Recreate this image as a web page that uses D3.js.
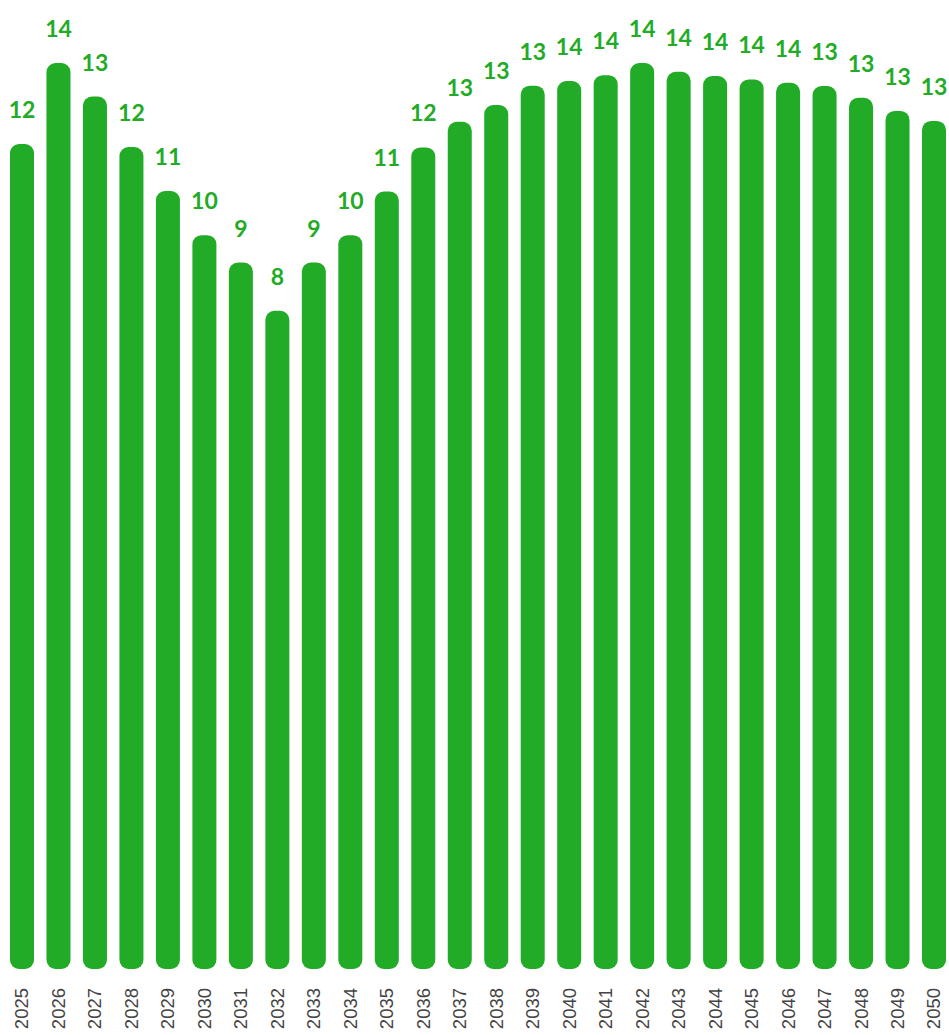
<!DOCTYPE html>
<html>
<head>
<meta charset="utf-8">
<script src="https://cdn.jsdelivr.net/npm/d3@7"></script>
<style>
  html, body { margin: 0; padding: 0; background: #ffffff; }
  svg { display: block; }
</style>
</head>
<body>
<svg id="chart" width="949" height="1035"></svg>
<script>
const years = ["2025","2026","2027","2028","2029","2030","2031","2032","2033","2034","2035","2036","2037",
               "2038","2039","2040","2041","2042","2043","2044","2045","2046","2047","2048","2049","2050"];
const values = [12.07, 14.0, 13.2, 12.0, 10.95, 9.9, 9.25, 8.1, 9.25, 9.9, 10.94, 11.99, 12.6,
                13.0, 13.46, 13.57, 13.71, 14.0, 13.79, 13.69, 13.61, 13.53, 13.45, 13.17, 12.86, 12.62];
const yDomain = [-7.57, 14.5];

const svg = d3.select("#chart");
const green = "#22ab26";

const x = d3.scaleBand().domain(years).range([10, 946]).paddingInner(0.342).paddingOuter(0);
const y = d3.scaleLinear().domain(yDomain).range([969, 42]);

const data = years.map((yr, i) => ({ year: yr, value: values[i] }));

svg.append("g").selectAll("rect").data(data).join("rect")
  .attr("x", d => x(d.year))
  .attr("width", x.bandwidth())
  .attr("y", d => y(d.value))
  .attr("height", d => y(yDomain[0]) - y(d.value))
  .attr("rx", 9).attr("ry", 9)
  .attr("fill", green);

svg.append("g").selectAll("text").data(data).join("text")
  .attr("x", d => x(d.year) + x.bandwidth() / 2)
  .attr("y", d => y(d.value) - 26)
  .attr("text-anchor", "middle")
  .attr("font-family", "Lato, sans-serif")
  .attr("font-weight", "bold")
  .attr("font-size", "23px")
  .attr("fill", green)
  .text(d => d3.format("d")(Math.round(d.value)));

const xAxis = d3.axisBottom(x).tickSize(0).tickPadding(0);
const gx = svg.append("g").attr("transform", "translate(0,988)").call(xAxis);
gx.select(".domain").remove();
gx.selectAll("text")
  .attr("transform", "rotate(-90)")
  .attr("x", 0).attr("y", 0)
  .attr("dy", "0.35em")
  .attr("text-anchor", "end")
  .attr("font-family", "'Liberation Sans', Arial, sans-serif")
  .attr("font-size", "18.5px")
  .attr("fill", "#444444");
</script>
</body>
</html>
